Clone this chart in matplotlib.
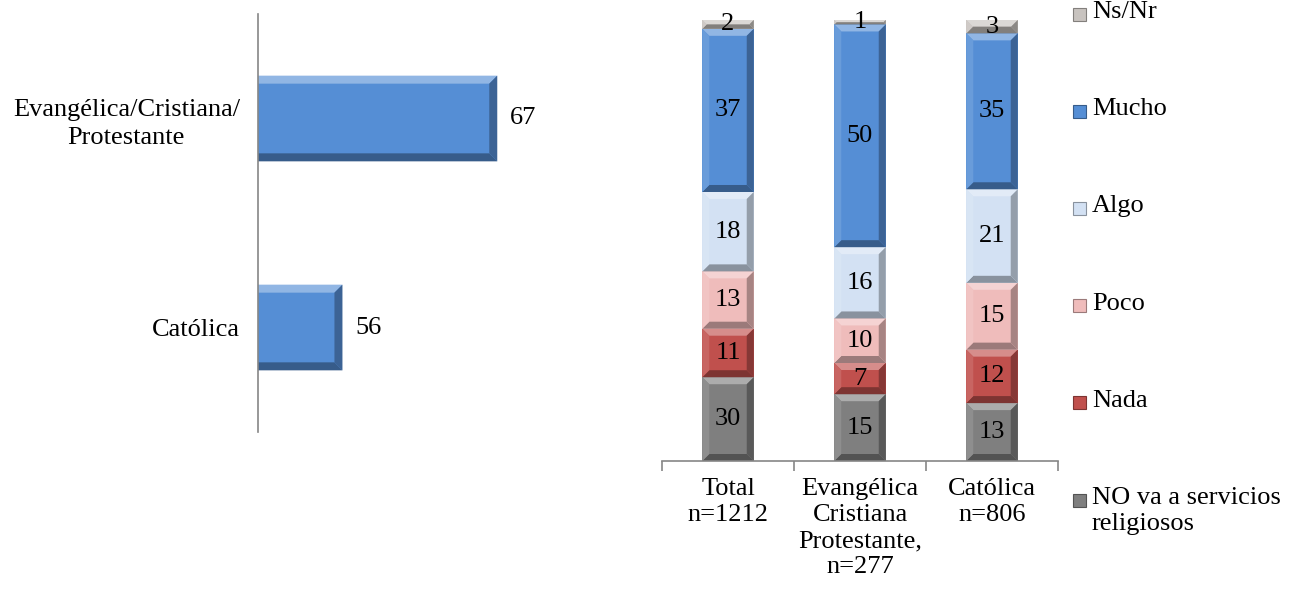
import matplotlib.pyplot as plt
import numpy as np
from matplotlib.colors import to_rgb
from matplotlib.patches import Polygon, Rectangle

plt.rcParams['font.family'] = ['Liberation Serif', 'DejaVu Serif']

# left chart
left_cats = ["Evangélica/Cristiana/\nProtestante", "Católica"]
left_vals = [67, 56]

# right chart (stacked, bottom to top)
groups = ["Total\nn=1212", "Evangélica\nCristiana\nProtestante,\nn=277", "Católica\nn=806"]
series = ["NO va a servicios\nreligiosos", "Nada", "Poco", "Algo", "Mucho", "Ns/Nr"]
no_va = [30, 15, 13]
no_va_drawn = [19, 15, 13]  # the source draws the Total segment shorter than its label
nada = [11, 7, 12]
poco = [13, 10, 15]
algo = [18, 16, 21]
mucho = [37, 50, 35]
nsnr = [2, 1, 3]
colors = ["#7f7f7f", "#c0504d", "#efbcbb", "#d3e1f3", "#558ed5", "#c8c3bf"]

FS = 19


def mix(c, other, t):
    c = np.array(to_rgb(c))
    return tuple(c + (np.array(other) - c) * t)


def bevel(ax, patch, color, w=7):
    # fake Excel bevel: shaded trapezoids along each edge (display coords)
    x0, y0 = patch.get_x(), patch.get_y()
    x1, y1 = x0 + patch.get_width(), y0 + patch.get_height()
    pts = ax.transData.transform([(x0, y0), (x1, y1)])
    a, c = sorted(pts[:, 0])
    b, d = sorted(pts[:, 1])
    w = min(w, (d - b) / 2, (c - a) / 2)
    inv = ax.transData.inverted()
    sides = [
        ([(a, d), (c, d), (c - w, d - w), (a + w, d - w)], mix(color, (1, 1, 1), 0.35)),
        ([(a, b), (c, b), (c - w, b + w), (a + w, b + w)], mix(color, (0, 0, 0), 0.35)),
        ([(a, b), (a, d), (a + w, d - w), (a + w, b + w)], mix(color, (1, 1, 1), 0.12)),
        ([(c, b), (c, d), (c - w, d - w), (c - w, b + w)], mix(color, (0, 0, 0), 0.3)),
    ]
    for poly, col in sides:
        ax.add_patch(Polygon(inv.transform(poly), closed=True, facecolor=col, edgecolor='none'))


fig = plt.figure(figsize=(12.92, 5.90), dpi=100)

# ---- left horizontal bars
ax1 = fig.add_axes([258 / 1292, 158 / 590, 342 / 1292, 418 / 590])
ypos = np.arange(len(left_cats))
bars = ax1.barh(ypos, left_vals, height=0.41, left=0, color="#558ed5")
ax1.set_xlim(50, 74.3)
ax1.set_ylim(1.5, -0.5)
ax1.set_yticks(ypos)
ax1.set_yticklabels(left_cats, fontsize=FS, multialignment='center', linespacing=1.33)
ax1.tick_params(axis='y', length=0, pad=13)
ax1.set_xticks([])
for s in ["top", "right", "bottom"]:
    ax1.spines[s].set_visible(False)
ax1.spines["left"].set_color("#868686")
ax1.spines["left"].set_linewidth(1.2)
for p in bars:
    bevel(ax1, p, "#558ed5", w=8)
ax1.bar_label(bars, labels=[str(v) for v in left_vals], padding=9, fontsize=FS)

# ---- right stacked bars
ax2 = fig.add_axes([662 / 1292, 129 / 590, 396 / 1292, 441 / 590])
drawn = np.array([no_va_drawn, nada, poco, algo, mucho, nsnr], dtype=float)
shown = [no_va, nada, poco, algo, mucho, nsnr]
pct = drawn / drawn.sum(axis=0) * 100
x = np.arange(len(groups))
ax2.set_xlim(-0.5, 2.5)
ax2.set_ylim(0, 100)
bottom = np.zeros(len(groups))
for i, name in enumerate(series):
    bc = ax2.bar(x, pct[i], bottom=bottom, width=0.39, color=colors[i], label=name)
    for p in bc:
        bevel(ax2, p, colors[i], w=7)
    ax2.bar_label(bc, labels=[str(v) for v in shown[i]], label_type='center', fontsize=FS)
    bottom += pct[i]

ax2.set_xticks(x)
ax2.set_xticklabels(groups, fontsize=FS, linespacing=1.25)
ax2.set_xticks([-0.5, 0.5, 1.5, 2.5], minor=True)
ax2.tick_params(axis='x', which='major', length=0, pad=12)
ax2.tick_params(axis='x', which='minor', length=7, color="#868686", width=1.2)
ax2.set_yticks([])
for s in ["top", "right", "left"]:
    ax2.spines[s].set_visible(False)
ax2.spines["bottom"].set_color("#868686")
ax2.spines["bottom"].set_linewidth(1.2)

# ---- legend, top entry first
for k, i in enumerate(range(len(series) - 1, -1, -1)):
    yc = 590 - (14 + k * 97.2)
    fig.add_artist(Rectangle((1073 / 1292, (yc - 6.5) / 590), 13 / 1292, 13 / 590,
                             transform=fig.transFigure, facecolor=colors[i],
                             edgecolor=mix(colors[i], (0, 0, 0), 0.35), linewidth=0.8))
    fig.text(1092 / 1292, (yc + 13) / 590, series[i], fontsize=FS, va='top', ha='left',
             linespacing=1.25)

fig.savefig("out.png", dpi=100)
